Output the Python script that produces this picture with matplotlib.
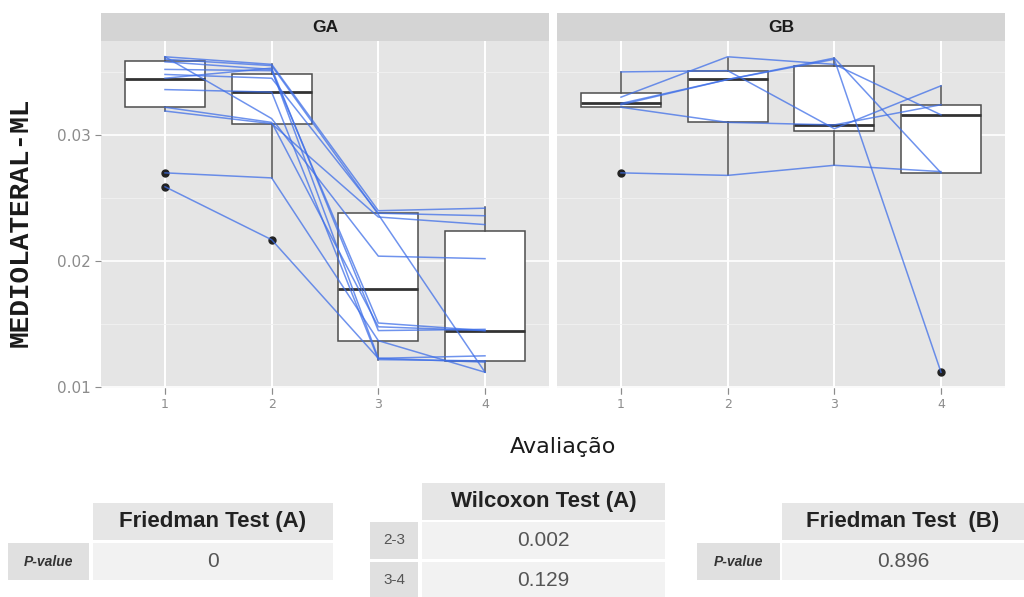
import numpy as np
import matplotlib.pyplot as plt
from matplotlib.patches import Rectangle

visits = [1, 2, 3, 4]
groups = ['GA', 'GB']

# trajetorias de cada sujeito (avaliacao 1..4)
ga_subjects = [
    [0.0362, 0.0356, 0.0240, 0.0242],
    [0.0362, 0.0313, 0.0204, 0.0202],
    [0.0360, 0.0355, 0.0237, 0.0112],
    [0.0358, 0.0352, 0.0123, 0.0125],
    [0.0352, 0.0351, 0.0151, 0.0145],
    [0.0348, 0.0345, 0.0238, 0.0236],
    [0.0345, 0.0353, 0.0145, 0.0146],
    [0.0336, 0.0334, 0.0122, 0.0121],
    [0.0322, 0.0310, 0.0148, 0.0145],
    [0.0319, 0.0309, 0.0235, 0.0229],
    [0.0270, 0.0266, 0.0137, 0.0112],
    [0.0259, 0.0217, 0.0123, 0.0120],
]
gb_subjects = [
    [0.0270, 0.0268, 0.0276, 0.0271],
    [0.0325, 0.0344, 0.0360, 0.0112],
    [0.0350, 0.0351, 0.0305, 0.0339],
    [0.0330, 0.0362, 0.0356, 0.0316],
    [0.0322, 0.0310, 0.0308, 0.0324],
    [0.0324, 0.0344, 0.0361, 0.0270],
]

# estatisticas dos boxplots
ga_q1 = [0.0322, 0.0309, 0.0137, 0.0121]
ga_med = [0.0344, 0.0334, 0.0178, 0.0145]
ga_q3 = [0.0359, 0.0348, 0.0238, 0.0224]
ga_whislo = [0.0319, 0.0266, 0.0122, 0.0112]
ga_whishi = [0.0362, 0.0356, 0.0238, 0.0243]
ga_fliers = [[0.0270, 0.0259], [0.0217], [], []]

gb_q1 = [0.0322, 0.0310, 0.0303, 0.0270]
gb_med = [0.0325, 0.0344, 0.0308, 0.0316]
gb_q3 = [0.0333, 0.0351, 0.0355, 0.0324]
gb_whislo = [0.0322, 0.0268, 0.0276, 0.0270]
gb_whishi = [0.0350, 0.0361, 0.0361, 0.0339]
gb_fliers = [[0.0270], [], [], [0.0112]]

yticks = [0.01, 0.02, 0.03]
ytick_labels = ['0.01', '0.02', '0.03']

# tabelas
fa_header = 'Friedman Test (A)'
fa_rows = ['P-value']
fa_vals = ['0']
wil_header = 'Wilcoxon Test (A)'
wil_rows = ['2-3', '3-4']
wil_vals = ['0.002', '0.129']
fb_header = 'Friedman Test  (B)'
fb_rows = ['P-value']
fb_vals = ['0.896']

W, H = 1024, 597
fig = plt.figure(figsize=(W / 100, H / 100), dpi=100)
fig.patch.set_facecolor('white')


def fbox(x, y, w, h):
    # pixels -> fracao da figura
    return [x / W, 1 - (y + h) / H, w / W, h / H]


def stats(q1, med, q3, lo, hi, fl):
    out = []
    for i in range(len(q1)):
        out.append(dict(q1=q1[i], med=med[i], q3=q3[i], whislo=lo[i],
                        whishi=hi[i], fliers=fl[i]))
    return out


panels = [
    ('GA', 101, ga_subjects, stats(ga_q1, ga_med, ga_q3, ga_whislo, ga_whishi, ga_fliers)),
    ('GB', 557, gb_subjects, stats(gb_q1, gb_med, gb_q3, gb_whislo, gb_whishi, gb_fliers)),
]

axes = []
for name, x0, subs, st in panels:
    ax = fig.add_axes(fbox(x0, 41, 448, 347))
    ax.set_facecolor('#E5E5E5')
    ax.set_xlim(0.4, 4.6)
    ax.set_ylim(0.00995, 0.03745)
    ax.set_yticks(yticks)
    ax.set_yticks([0.015, 0.025, 0.035], minor=True)
    ax.set_xticks(visits)
    ax.grid(True, which='major', color='white', lw=1.2)
    ax.grid(True, which='minor', axis='y', color='#F2F2F2', lw=0.6)
    ax.set_axisbelow(True)
    for s in ax.spines.values():
        s.set_visible(False)
    ax.tick_params(which='both', colors='#8C8C8C', labelsize=11, length=4)
    ax.tick_params(which='minor', length=0)
    ax.tick_params(axis='x', labelsize=9)

    ax.bxp(st, positions=visits, widths=0.75, patch_artist=True, showcaps=False,
           boxprops=dict(facecolor='white', edgecolor='#4D4D4D', lw=1.1),
           medianprops=dict(color='#333333', lw=2),
           whiskerprops=dict(color='#4D4D4D', lw=1.1),
           flierprops=dict(marker='o', markerfacecolor='#222222', markeredgecolor='#222222',
                           markersize=5))
    for s in subs:
        ax.plot(visits, s, color='#3F6FE8', alpha=0.75, lw=1.1, zorder=5)

    # faixa do painel
    sax = fig.add_axes(fbox(x0, 13, 448, 28))
    sax.set_facecolor('#D4D4D4')
    sax.set_xticks([])
    sax.set_yticks([])
    for s in sax.spines.values():
        s.set_visible(False)
    sax.text(0.5, 0.5, name, ha='center', va='center', fontsize=12.5,
             fontweight='bold', color='#1A1A1A', family='Liberation Sans')
    axes.append(ax)

axes[0].set_yticklabels(ytick_labels)
axes[1].tick_params(axis='y', labelleft=False, length=0)

fig.text(563 / W, 1 - 447 / H, 'Avaliação', ha='center', va='center',
         fontsize=16, color='#1A1A1A')
fig.text(21 / W, 1 - 222 / H, 'MEDIOLATERAL-ML', ha='center', va='center',
         rotation=90, fontsize=20, fontweight='bold', family='Liberation Mono',
         color='#1A1A1A')


def cell(x, y, w, h, bg, txt='', **kw):
    fig.patches.append(Rectangle((x / W, 1 - (y + h) / H), w / W, h / H,
                                 transform=fig.transFigure, facecolor=bg,
                                 edgecolor='none'))
    if txt:
        fig.text((x + w / 2) / W, 1 - (y + h / 2) / H, txt, ha='center',
                 va='center', family='Liberation Sans', **kw)


head_kw = dict(fontsize=16, fontweight='bold', color='#222222')
val_kw = dict(fontsize=15, color='#555555')
row_kw = dict(fontsize=10, fontweight='bold', style='italic', color='#333333')

# Friedman A
cell(93, 503, 240, 37, '#E6E6E6', fa_header, **head_kw)
for i, (r, v) in enumerate(zip(fa_rows, fa_vals)):
    cell(8, 543 + i * 40, 81, 37, '#E0E0E0', r, **row_kw)
    cell(93, 543 + i * 40, 240, 37, '#F2F2F2', v, **val_kw)

# Wilcoxon A
cell(422, 483, 243, 37, '#E6E6E6', wil_header, **head_kw)
for i, (r, v) in enumerate(zip(wil_rows, wil_vals)):
    cell(370, 522 + i * 40, 48, 37, '#E0E0E0', r, fontsize=11, color='#555555')
    cell(422, 522 + i * 40, 243, 37, '#F2F2F2', v, **val_kw)

# Friedman B
cell(782, 503, 242, 37, '#E6E6E6', fb_header, **head_kw)
for i, (r, v) in enumerate(zip(fb_rows, fb_vals)):
    cell(697, 543 + i * 40, 83, 37, '#E0E0E0', r, **row_kw)
    cell(782, 543 + i * 40, 242, 37, '#F2F2F2', v, **val_kw)

fig.savefig('out.png', dpi=100)
